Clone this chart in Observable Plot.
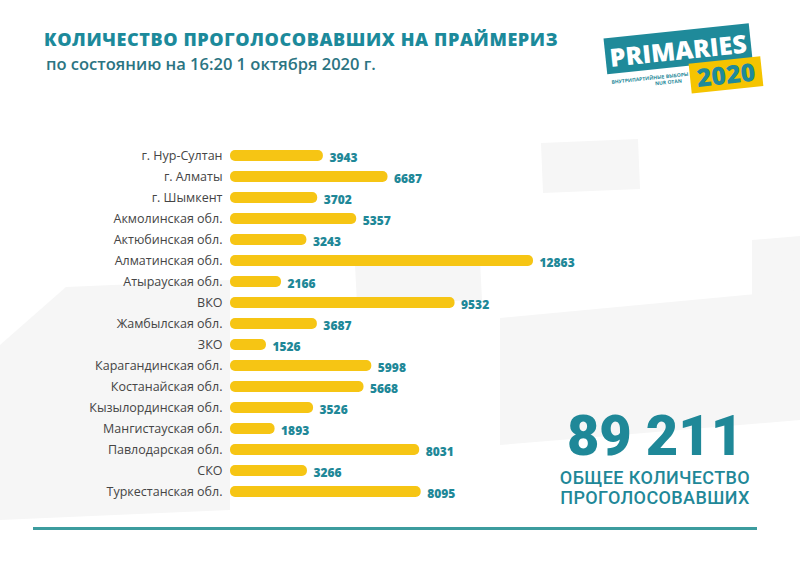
<!DOCTYPE html>
<html><head><meta charset="utf-8">
<script src="https://cdn.jsdelivr.net/npm/d3@7"></script>
<script src="https://cdn.jsdelivr.net/npm/@observablehq/plot@0.6"></script>
<style>
html,body{margin:0;padding:0;background:#fff;}
#wrap{position:relative;width:800px;height:565px;overflow:hidden;font-family:"Open Sans",sans-serif;background:#fff;}
#bg{position:absolute;left:0;top:0;}
#chart{position:absolute;left:0;top:0;}
.title{position:absolute;left:44px;top:27px;font-size:18px;font-weight:800;color:#1c8a9b;letter-spacing:0.6px;white-space:nowrap;}
.sub{position:absolute;left:46px;top:52px;font-size:16.5px;font-weight:600;color:#2b7482;white-space:nowrap;}
.rule{position:absolute;left:33px;top:527px;width:724px;height:2.5px;background:#3c9c9e;}
</style></head>
<body>
<div id="wrap">
<svg id="bg" width="800" height="565">
  <g fill="#f6f6f6">
    <polygon points="541,143 638,139 640,189 543,193"/>
    <polygon points="752,240 800,236 800,296 752,298"/>
    <polygon points="0,345 66,287 230,280 230,510 0,520"/>
    <polygon points="355,265 480,260 482,300 357,304"/>
    <polygon points="500,318 800,290 800,420 560,440 500,445"/>
  </g>
</svg>
<div id="chart"></div>
<div class="title">КОЛИЧЕСТВО ПРОГОЛОСОВАВШИХ НА ПРАЙМЕРИЗ</div>
<div class="sub">по состоянию на 16:20 1 октября 2020 г.</div>
<svg style="position:absolute;left:596px;top:18px" width="180" height="80">
  <g transform="rotate(-6 90 40)">
    <rect x="10" y="12" width="146" height="36" fill="#1f8a9a"/>
    <text x="83" y="41" text-anchor="middle" fill="#fff" font-family="Open Sans" font-weight="800" font-size="25">PRIMARIES</text>
    <rect x="92" y="46" width="72" height="30" fill="#f5c400"/>
    <text x="128" y="70" text-anchor="middle" fill="#1f8a9a" font-family="Open Sans" font-weight="800" font-size="25">2020</text>
    <text x="52" y="58" text-anchor="middle" fill="#1f8a9a" font-family="Open Sans" font-weight="700" font-size="5">ВНУТРИПАРТИЙНЫЕ ВЫБОРЫ</text>
    <text x="70" y="64" text-anchor="middle" fill="#1f8a9a" font-family="Open Sans" font-weight="700" font-size="5">NUR OTAN</text>
  </g>
</svg>
<svg style="position:absolute;left:540px;top:395px" width="230" height="115">
  <text id="total" x="115" y="60" text-anchor="middle" fill="#1f8898" font-family="Roboto" font-weight="900" font-size="56"></text>
  <text x="115" y="89" text-anchor="middle" fill="#1f8898" font-family="Roboto" font-weight="500" font-size="18" letter-spacing="0.4">ОБЩЕЕ КОЛИЧЕСТВО</text>
  <text x="115" y="108.5" text-anchor="middle" fill="#1f8898" font-family="Roboto" font-weight="500" font-size="18" letter-spacing="0.4">ПРОГОЛОСОВАВШИХ</text>
</svg>
<div class="rule"></div>
</div>
<script>
const regions = [
  "г. Нур-Султан","г. Алматы","г. Шымкент","Акмолинская обл.","Актюбинская обл.",
  "Алматинская обл.","Атырауская обл.","ВКО","Жамбылская обл.","ЗКО",
  "Карагандинская обл.","Костанайская обл.","Кызылординская обл.","Мангистауская обл.",
  "Павлодарская обл.","СКО","Туркестанская обл."
];
const votes = [3943,6687,3702,5357,3243,12863,2166,9532,3687,1526,5998,5668,3526,1893,8031,3266,8095];
const totalLabel = "89 211";

const data = regions.map((r, i) => ({region: r, value: votes[i]}));
document.getElementById("total").textContent = totalLabel;

const chart = Plot.plot({
  width: 800,
  height: 565,
  marginLeft: 230,
  marginRight: 267,
  marginTop: 134,
  marginBottom: 52,
  style: {background: "transparent", fontFamily: "Open Sans, sans-serif"},
  x: {domain: [0, 12863], axis: null},
  y: {domain: regions, padding: 0.5, axis: null},
  marks: [
    Plot.axisY({tickSize: 0, tickPadding: 8, fontSize: 12.5, fill: "#454545", textAnchor: "end", label: null}),
    Plot.barX(data, {y: "region", x: "value", fill: "#f6c514", rx: 5}),
    Plot.text(data, {y: "region", x: "value", text: d => String(d.value), textAnchor: "start", dx: 6, dy: 2, fill: "#1f8898", fontWeight: 800, fontSize: 12})
  ]
});
document.getElementById("chart").appendChild(chart);
</script>
</body></html>
